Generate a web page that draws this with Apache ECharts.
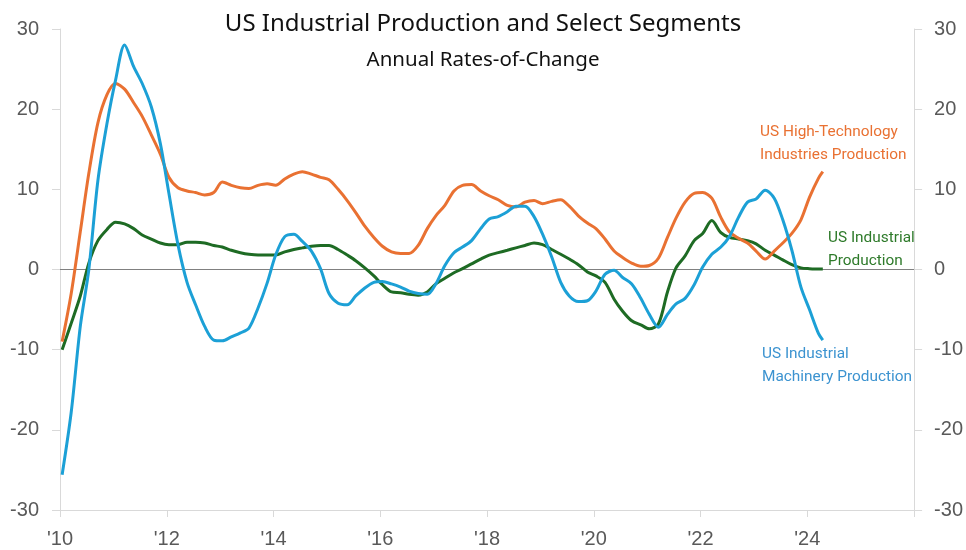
<!DOCTYPE html>
<html>
<head>
<meta charset="utf-8">
<script src="https://cdn.jsdelivr.net/npm/echarts@6/dist/echarts.min.js"></script>
<style>
html,body{margin:0;padding:0;background:#fff;}
#chart{width:966px;height:550px;}
</style>
</head>
<body>
<div id="chart"></div>
<script>
// Decimal years (bi-monthly samples)
var dates = [
 2010.04,2010.21,2010.38,2010.54,2010.71,2010.88,
 2011.04,2011.21,2011.38,2011.54,2011.71,2011.88,
 2012.04,2012.21,2012.38,2012.54,2012.71,2012.88,
 2013.04,2013.21,2013.38,2013.54,2013.71,2013.88,
 2014.04,2014.21,2014.38,2014.54,2014.71,2014.88,
 2015.04,2015.21,2015.38,2015.54,2015.71,2015.88,
 2016.04,2016.21,2016.38,2016.54,2016.71,2016.88,
 2017.04,2017.21,2017.38,2017.54,2017.71,2017.88,
 2018.04,2018.21,2018.38,2018.54,2018.71,2018.88,
 2019.04,2019.21,2019.38,2019.54,2019.71,2019.88,
 2020.04,2020.21,2020.38,2020.54,2020.71,2020.88,
 2021.04,2021.21,2021.38,2021.54,2021.71,2021.88,
 2022.04,2022.21,2022.38,2022.54,2022.71,2022.88,
 2023.04,2023.21,2023.38,2023.54,2023.71,2023.88,
 2024.04,2024.21,2024.29
];
var highTech = [
 -9.0,-3.0,4.7,12.0,18.3,21.8,
 23.2,22.5,20.8,19.1,16.8,14.4,
 11.5,10.2,9.8,9.6,9.3,9.6,
 10.9,10.5,10.2,10.1,10.5,10.7,
 10.5,11.3,11.9,12.2,11.9,11.5,
 11.2,10.0,8.6,7.1,5.4,4.0,
 2.9,2.2,2.0,2.0,3.0,5.1,
 6.7,8.0,9.8,10.5,10.6,9.8,
 9.2,8.7,8.0,7.8,8.4,8.6,
 8.2,8.5,8.7,7.9,6.7,5.8,
 5.1,3.8,2.3,1.5,0.8,0.4,
 0.5,1.4,4.0,6.4,8.4,9.5,
 9.6,8.9,6.5,4.7,3.9,3.3,
 2.3,1.3,2.3,3.3,4.5,6.2,
 9.0,11.4,12.2
];
var machinery = [
 -25.6,-17.8,-7.1,0.0,11.1,18.2,
 23.6,28.0,25.3,23.2,20.3,15.7,
 9.5,3.1,-1.6,-4.4,-7.1,-8.8,
 -8.9,-8.4,-7.9,-7.3,-4.8,-1.7,
 1.8,4.1,4.4,3.5,2.3,0.1,
 -3.0,-4.2,-4.4,-3.3,-2.3,-1.6,
 -1.5,-1.8,-2.2,-2.7,-3.0,-3.1,
 -1.8,0.5,2.1,2.8,3.6,5.1,
 6.3,6.6,7.2,7.9,7.9,6.6,
 4.4,1.6,-1.6,-3.3,-4.0,-3.9,
 -2.7,-0.6,-0.1,-1.0,-1.8,-3.6,
 -5.6,-7.2,-5.6,-4.3,-3.6,-1.9,
 0.3,1.9,2.8,4.1,6.5,8.4,
 8.8,9.9,8.9,6.2,2.4,-2.2,
 -5.0,-8.0,-8.8
];
var industrial = [
 -10.0,-6.7,-3.3,0.8,3.6,5.0,
 5.9,5.7,5.1,4.3,3.8,3.3,
 3.1,3.1,3.4,3.4,3.3,3.0,
 2.8,2.4,2.1,1.9,1.8,1.8,
 1.8,2.2,2.5,2.7,2.9,3.0,
 3.0,2.5,1.8,1.1,0.2,-0.8,
 -1.9,-2.8,-2.9,-3.1,-3.2,-2.8,
 -1.8,-1.1,-0.4,0.1,0.7,1.3,
 1.8,2.1,2.4,2.7,3.0,3.3,
 3.1,2.5,1.9,1.3,0.6,-0.3,
 -0.8,-1.6,-3.7,-5.2,-6.4,-6.9,
 -7.4,-6.8,-2.8,0.2,1.7,3.6,
 4.5,6.1,4.6,4.0,3.8,3.6,
 3.2,2.4,1.8,1.2,0.6,0.2,
 0.1,0.06,0.05
];
var yTicks = [-30,-20,-10,0,10,20,30];
var xTickYears = [2010,2012,2014,2016,2018,2020,2022,2024,2026];

function pairs(xs, ys){ return xs.map(function(x,i){ return [x, ys[i]]; }); }

var C_ORANGE = '#E97132', C_BLUE = '#1CA0D6', C_GREEN = '#1E6B24';
var labelFont = 'Liberation Sans, Arial, sans-serif';
var textFont = 'Roboto, sans-serif';

var chart = echarts.init(document.getElementById('chart'), null, {renderer:'canvas'});
var yAxisCommon = {
  type:'value', min:yTicks[0], max:yTicks[yTicks.length-1], interval:10,
  splitLine:{show:false},
  axisLine:{show:true, lineStyle:{color:'#d9d9d9', width:1}},
  axisTick:{show:true, length:8, lineStyle:{color:'#d9d9d9'}},
  axisLabel:{color:'#595959', fontSize:20, fontFamily:labelFont}
};
chart.setOption({
  animation:false,
  backgroundColor:'#fff',
  title:[
    {text:'US Industrial Production and Select Segments', left:'center', top:7,
     textStyle:{fontSize:24, fontWeight:'normal', color:'#111', fontFamily:'Noto Sans, sans-serif'}},
    {text:'Annual Rates-of-Change', left:'center', top:45,
     textStyle:{fontSize:20.5, fontWeight:'normal', color:'#111', fontFamily:'Noto Sans, sans-serif'}}
  ],
  grid:{left:60, right:51, top:29, bottom:40, containLabel:false},
  xAxis:{
    type:'value', min:xTickYears[0], max:xTickYears[xTickYears.length-1], interval:2,
    splitLine:{show:false},
    axisLine:{show:true, onZero:false, lineStyle:{color:'#d9d9d9'}},
    axisTick:{show:true, length:7, lineStyle:{color:'#d9d9d9'}},
    axisLabel:{color:'#595959', fontSize:20, fontFamily:labelFont, margin:19,
      formatter:function(v){ return v >= 2026 ? '' : "'" + String(v).slice(2); }}
  },
  yAxis:[
    Object.assign({position:'left'}, yAxisCommon, {axisLabel:Object.assign({}, yAxisCommon.axisLabel, {margin:21})}),
    Object.assign({position:'right'}, yAxisCommon, {axisLabel:Object.assign({}, yAxisCommon.axisLabel, {margin:20})})
  ],
  series:[
    {name:'US Industrial Production', type:'line', data:pairs(dates, industrial), showSymbol:false, smooth:0.3,
     lineStyle:{color:C_GREEN, width:3}, itemStyle:{color:C_GREEN}, z:3,
     markLine:{silent:true, symbol:['none','none'], label:{show:false},
       lineStyle:{color:'#808080', width:1, type:'solid'}, data:[{yAxis:0}], z:1}},
    {name:'US High-Technology Industries Production', type:'line', data:pairs(dates, highTech), showSymbol:false, smooth:0.3,
     lineStyle:{color:C_ORANGE, width:3}, itemStyle:{color:C_ORANGE}, z:4},
    {name:'US Industrial Machinery Production', type:'line', data:pairs(dates, machinery), showSymbol:false, smooth:0.3,
     lineStyle:{color:C_BLUE, width:3}, itemStyle:{color:C_BLUE}, z:5}
  ],
  graphic:[
    {type:'text', left:760, top:121, style:{text:'US High-Technology\nIndustries Production', fill:C_ORANGE, font:'15.4px ' + textFont, lineHeight:23}},
    {type:'text', left:828, top:227, style:{text:'US Industrial\nProduction', fill:'#2E7A2A', font:'15.4px ' + textFont, lineHeight:23}},
    {type:'text', left:762, top:343, style:{text:'US Industrial\nMachinery Production', fill:'#3C93D0', font:'15.4px ' + textFont, lineHeight:23}}
  ]
});
</script>
</body>
</html>
